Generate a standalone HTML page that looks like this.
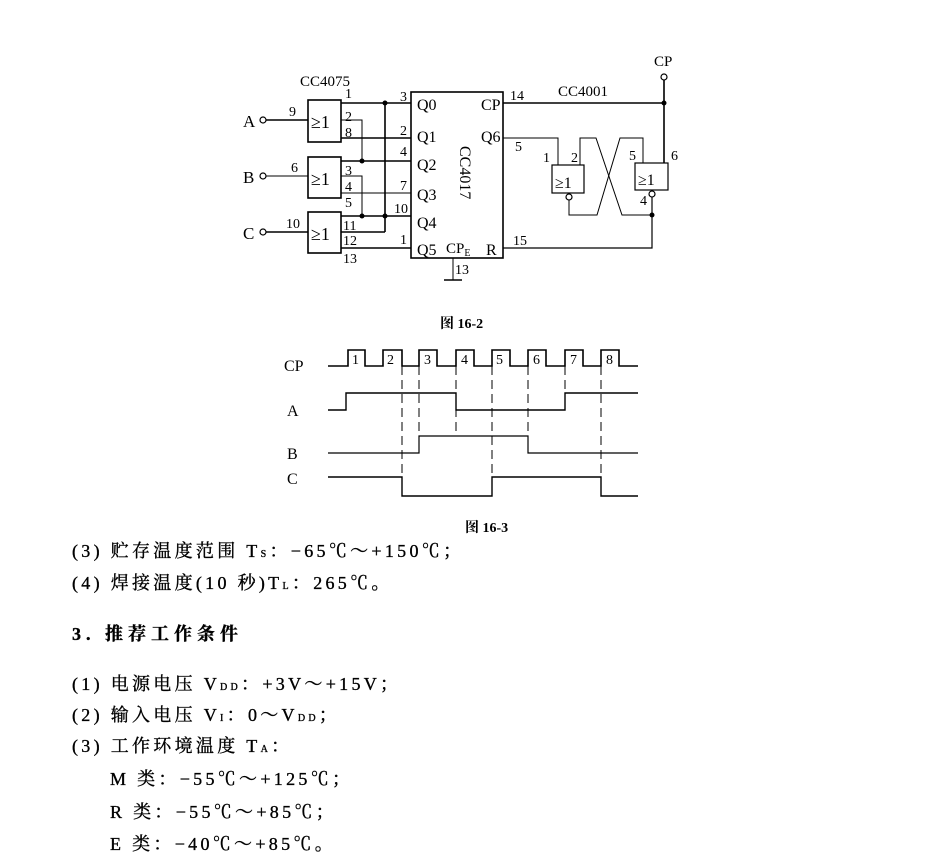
<!DOCTYPE html>
<html><head><meta charset="utf-8"><style>
body{margin:0;background:#fff;width:928px;height:865px;overflow:hidden}
svg{position:absolute;left:0;top:0}
text{font-family:"Liberation Serif","Noto Serif CJK SC",serif;fill:#000}
.t{font-size:18px;letter-spacing:3.3px;stroke:#000;stroke-width:0.35}
.c{font-family:"Liberation Serif","Noto Serif CJK SC",serif;font-size:14px}
</style></head><body>
<svg width="928" height="865" viewBox="0 0 928 865">
<g stroke="#000" fill="none" stroke-width="1.6">
<rect x="308" y="100" width="33" height="42"/>
<rect x="308" y="157" width="33" height="41"/>
<rect x="308" y="212" width="33" height="41"/>
<rect x="411" y="92" width="92" height="166"/>
<line x1="266" y1="120" x2="308" y2="120"/><circle cx="263" cy="120" r="3" stroke-width="1.2"/>
<line x1="266" y1="176" x2="308" y2="176" stroke-width="1"/><circle cx="263" cy="176" r="3" stroke-width="1.2"/>
<line x1="266" y1="232" x2="308" y2="232"/><circle cx="263" cy="232" r="3" stroke-width="1.2"/>
<line x1="341" y1="103" x2="411" y2="103"/>
<line x1="341" y1="138" x2="411" y2="138"/>
<line x1="341" y1="161" x2="411" y2="161"/>
<line x1="341" y1="193" x2="411" y2="193" stroke-width="1"/>
<line x1="341" y1="216" x2="411" y2="216"/>
<line x1="341" y1="232" x2="385" y2="232"/>
<line x1="341" y1="248" x2="411" y2="248"/>
<line x1="385" y1="103" x2="385" y2="232"/>
<polyline points="341,120 362,120 362,161" stroke-width="1"/>
<polyline points="341,176 362,176 362,216" stroke-width="1"/>
<polyline points="503,103 664,103 664,80"/>
<circle cx="664" cy="77" r="3" stroke-width="1.2"/>
<line x1="664" y1="103" x2="664" y2="163"/>
<polyline points="503,138 558,138 558,165" stroke-width="1"/>
<rect x="552" y="165" width="32" height="28" stroke-width="1.2"/>
<rect x="635" y="163" width="33" height="27" stroke-width="1.2"/>
<circle cx="569" cy="197" r="3" stroke-width="1.2"/>
<circle cx="652" cy="194" r="3" stroke-width="1.2"/>
<polyline points="580,165 580,138 596,138 622,215 652,215" stroke-width="1"/>
<polyline points="643,163 643,138 620,138 597,215 569,215 569,200" stroke-width="1"/>
<polyline points="503,248 652,248 652,197" stroke-width="1.2"/>
<line x1="453" y1="258" x2="453" y2="280" stroke-width="1"/>
<line x1="444" y1="280" x2="462" y2="280" stroke-width="1.6"/>
</g>
<g fill="#000">
<circle cx="385" cy="103" r="2.5"/><circle cx="362" cy="161" r="2.5"/><circle cx="362" cy="216" r="2.5"/><circle cx="385" cy="216" r="2.5"/>
<circle cx="664" cy="103" r="2.5"/><circle cx="652" cy="215" r="2.5"/>
</g>
<g class="c">
<text x="300" y="86" font-size="15">CC4075</text>
<text x="243" y="127" font-size="17">A</text><text x="243" y="183" font-size="17">B</text><text x="243" y="239" font-size="17">C</text>
<text x="289" y="116">9</text><text x="291" y="172">6</text><text x="286" y="228">10</text>
<text x="311" y="128" font-size="18">≥1</text><text x="311" y="185" font-size="18">≥1</text><text x="311" y="240" font-size="18">≥1</text>
<text x="345" y="98">1</text><text x="345" y="121">2</text><text x="345" y="137">8</text>
<text x="345" y="175">3</text><text x="345" y="191">4</text><text x="345" y="207">5</text>
<text x="343" y="230">11</text><text x="343" y="245">12</text><text x="343" y="263">13</text>
<text x="400" y="101">3</text><text x="400" y="135">2</text><text x="400" y="156">4</text><text x="400" y="190">7</text><text x="394" y="213">10</text><text x="400" y="244">1</text>
<text x="417" y="110" font-size="16">Q0</text><text x="417" y="142" font-size="16">Q1</text><text x="417" y="170" font-size="16">Q2</text><text x="417" y="200" font-size="16">Q3</text><text x="417" y="228" font-size="16">Q4</text><text x="417" y="255" font-size="16">Q5</text>
<text x="481" y="110" font-size="16">CP</text><text x="481" y="142" font-size="16">Q6</text><text x="486" y="255" font-size="16">R</text>
<text x="446" y="253" font-size="15">CP<tspan font-size="10" dy="3">E</tspan></text>
<text x="460" y="146" font-size="16" transform="rotate(90 460 146)">CC4017</text>
<text x="510" y="100">14</text><text x="558" y="96" font-size="15">CC4001</text>
<text x="515" y="151">5</text><text x="513" y="245">15</text><text x="455" y="274">13</text>
<text x="543" y="162">1</text><text x="571" y="162">2</text><text x="629" y="160">5</text><text x="671" y="160">6</text><text x="640" y="205">4</text>
<text x="555" y="188" font-size="16">≥1</text><text x="638" y="185" font-size="16">≥1</text>
<text x="654" y="66" font-size="15">CP</text>
<text x="440" y="328" font-family="Liberation Sans,Noto Sans CJK SC,sans-serif" font-weight="bold">图 16-2</text>
<text x="465" y="532" font-family="Liberation Sans,Noto Sans CJK SC,sans-serif" font-weight="bold">图 16-3</text>
</g>
<g stroke="#000" fill="none" stroke-width="1.6">
<polyline points="328,366 348,366 348,350 365,350 365,366 383,366 383,350 402,350 402,366 419,366 419,350 437,350 437,366 456,366 456,350 474,350 474,366 492,366 492,350 510,350 510,366 528,366 528,350 546,350 546,366 565,366 565,350 583,350 583,366 601,366 601,350 619,350 619,366 638,366"/>
<polyline points="328,410 346,410 346,393 456,393 456,410 565,410 565,393 638,393" stroke-width="1.4"/>
<polyline points="328,453 419,453 419,436 528,436 528,453 638,453" stroke-width="1.2"/>
<polyline points="328,477 402,477 402,496 492,496 492,477 601,477 601,496 638,496" stroke-width="1.4"/>
<g stroke-width="1" stroke-dasharray="9,5">
<line x1="402" y1="366" x2="402" y2="496"/><line x1="419" y1="366" x2="419" y2="436"/><line x1="456" y1="366" x2="456" y2="436"/>
<line x1="492" y1="366" x2="492" y2="496"/><line x1="528" y1="366" x2="528" y2="436"/><line x1="565" y1="366" x2="565" y2="393"/>
<line x1="601" y1="366" x2="601" y2="496"/>
</g>
</g>
<g class="c" font-size="15">
<text x="284" y="371" font-size="16">CP</text><text x="287" y="416" font-size="16">A</text><text x="287" y="459" font-size="16">B</text><text x="287" y="484" font-size="16">C</text>
<text x="352" y="364">1</text><text x="387" y="364">2</text><text x="424" y="364">3</text><text x="461" y="364">4</text><text x="496" y="364">5</text><text x="533" y="364">6</text><text x="570" y="364">7</text><text x="606" y="364">8</text>
</g>
<g class="t">
<text x="72" y="557">(3) 贮存温度范围 T<tspan font-size="10">S</tspan>：−65℃～+150℃；</text>
<text x="72" y="589">(4) 焊接温度(10 秒)T<tspan font-size="10">L</tspan>：265℃。</text>
<text x="72" y="640" font-weight="bold" letter-spacing="5" font-family="Liberation Sans,Noto Sans CJK SC,sans-serif">3. 推荐工作条件</text>
<text x="72" y="690">(1) 电源电压 V<tspan font-size="10">DD</tspan>：+3V～+15V；</text>
<text x="72" y="721">(2) 输入电压 V<tspan font-size="10">I</tspan>：0～V<tspan font-size="10">DD</tspan>；</text>
<text x="72" y="752">(3) 工作环境温度 T<tspan font-size="10">A</tspan>：</text>
<text x="110" y="785">M 类：−55℃～+125℃；</text>
<text x="110" y="818">R 类：−55℃～+85℃；</text>
<text x="110" y="850">E 类：−40℃～+85℃。</text>
</g>
</svg>
</body></html>
